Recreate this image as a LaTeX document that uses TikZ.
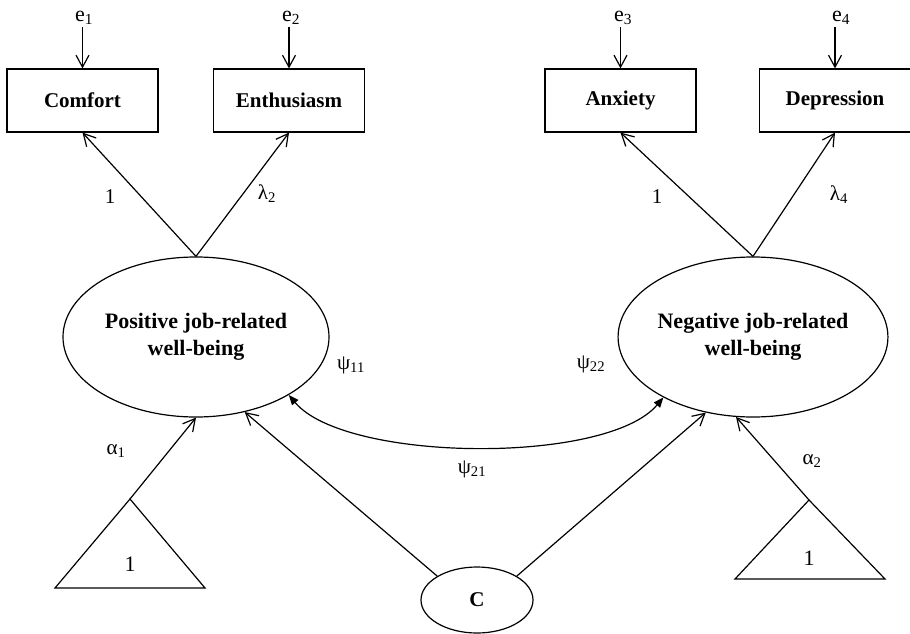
\documentclass[tikz,border=0pt]{standalone}
\usepackage{fontspec}
\setmainfont{Liberation Serif}
\usetikzlibrary{shapes.geometric,arrows.meta}
\begin{document}
\begin{tikzpicture}[x=1pt,y=-1pt,
  line width=1.2pt,
  obs/.style={draw,rectangle,minimum width=151pt,minimum height=63pt,inner sep=0pt,font=\fontsize{21}{24}\selectfont\bfseries},
  lat/.style={draw,ellipse,minimum width=266pt,minimum height=160pt,inner sep=0pt,align=center,font=\fontsize{22}{27}\selectfont\bfseries},
  lbl/.style={inner sep=0pt,font=\fontsize{21}{23}\selectfont},
  elbl/.style={inner sep=2pt,font=\fontsize{22}{24}\selectfont},
  oarr/.style={-{Straight Barb[length=12pt,width=13pt]}},
  farr/.style={{Triangle[length=10pt,width=8pt]}-{Triangle[length=10pt,width=8pt]}}
]
\useasboundingbox (0,0) rectangle (910,634);

% observed indicators
\node[obs] (comfort) at (82.5,100.5) {Comfort};
\node[obs] (enth) at (289,100.5) {Enthusiasm};
\node[obs] (anx) at (620.5,100.5) {Anxiety};
\node[obs] (dep) at (835,100.5) {Depression};

% error terms
\node[elbl] (e1) at (84,18) {e\textsubscript{1}};
\node[elbl] (e2) at (291,18) {e\textsubscript{2}};
\node[elbl] (e3) at (623,18) {e\textsubscript{3}};
\node[elbl] (e4) at (841,18) {e\textsubscript{4}};
\draw[oarr] (e1.south -| comfort.north) -- (comfort.north);
\draw[oarr] (e2.south -| enth.north) -- (enth.north);
\draw[oarr] (e3.south -| anx.north) -- (anx.north);
\draw[oarr] (e4.south -| dep.north) -- (dep.north);

% latent factors
\node[lat] (pos) at (196,337) {Positive job-related\\well-being};
\node[lat] (neg) at (753,337) {Negative job-related\\well-being};

% loadings
\draw[oarr] (pos.north) -- (comfort.south);
\draw[oarr] (pos.north) -- (enth.south);
\draw[oarr] (neg.north) -- (anx.south);
\draw[oarr] (neg.north) -- (dep.south);
\node[lbl] (l1) at (110,197) {1};
\node[lbl] (l2) at (267,194) {λ\textsubscript{2}};
\node[lbl] (l3) at (657,197) {1};
\node[lbl] (l4) at (839,195) {λ\textsubscript{4}};

% covariance
\draw[farr] (pos.-32) to[out=-50,in=-130,looseness=0.6] (neg.-146);
\node[lbl] (p11) at (351,365) {ψ\textsubscript{11}};
\node[lbl] (p22) at (591,364) {ψ\textsubscript{22}};
\node[lbl] (p21) at (472,469) {ψ\textsubscript{21}};

% intercept triangles
\coordinate (t1) at (130,499);
\draw (t1) -- (205,588) -- (55,588) -- cycle;
\node[font=\fontsize{22}{24}\selectfont,inner sep=0pt] (one1) at (130,564) {1};
\coordinate (t2) at (809,500);
\draw (t2) -- (885,579) -- (735,579) -- cycle;
\node[font=\fontsize{22}{24}\selectfont,inner sep=0pt] (one2) at (809,558) {1};
\draw[oarr] (t1) -- (pos.south);
\draw[oarr] (t2) -- (neg.-102);
\node[lbl] (a1) at (116,451) {α\textsubscript{1}};
\node[lbl] (a2) at (812,461) {α\textsubscript{2}};

% covariate
\node[draw,ellipse,minimum width=112pt,minimum height=66pt,inner sep=0pt,font=\fontsize{21}{23}\selectfont\bfseries] (c) at (477,600) {C};
\draw[oarr] (c.149) -- (pos.-57);
\draw[oarr] (c.31) -- (neg.-122);
\end{tikzpicture}
\end{document}
